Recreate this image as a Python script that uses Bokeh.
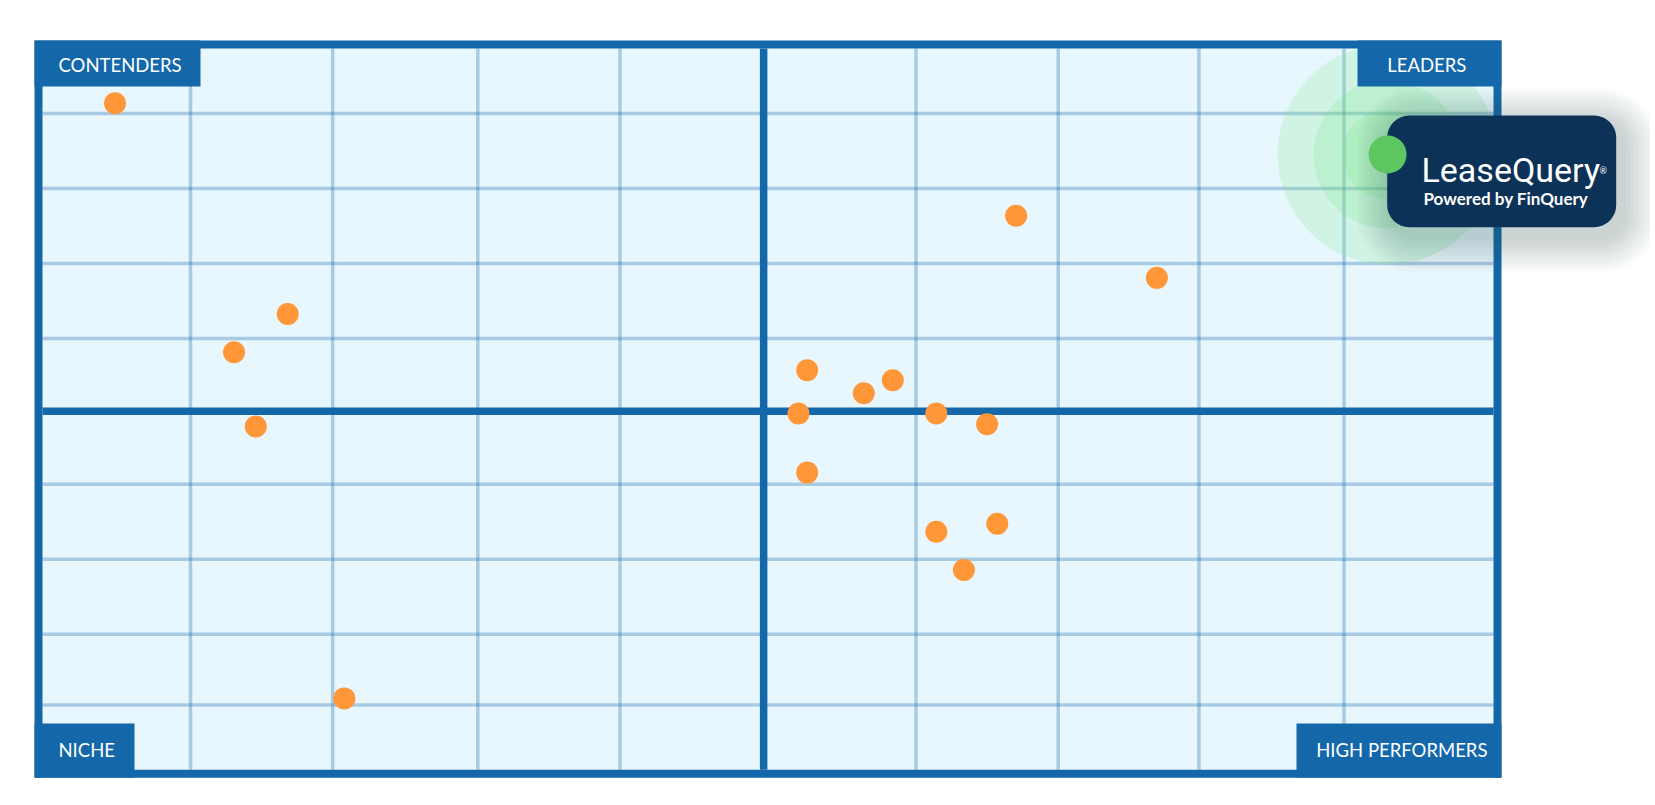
from bokeh.plotting import figure
from bokeh.core.properties import value
from bokeh.embed import file_html
from bokeh.resources import INLINE

# ---------------- data ----------------
vendor_x = [5.0, 16.9, 13.2, 14.7, 20.8, 67.1, 76.8, 52.7, 56.6, 58.6,
            52.1, 61.6, 65.1, 52.7, 61.6, 65.8, 63.5]
vendor_y = [92.4, 63.2, 57.9, 47.6, 9.9, 76.8, 68.2, 55.4, 52.2, 54.0,
            49.4, 49.4, 47.9, 41.2, 33.0, 34.1, 27.7]
highlight_x = [92.7]
highlight_y = [85.3]
highlight_name = ["LeaseQuery"]
grid_x = [10.2, 20.0, 30.0, 39.8, 60.2, 70.0, 79.7, 89.7]
grid_y = [9.0, 18.8, 29.2, 39.6, 59.8, 70.2, 80.6, 91.0]
mid_x = [49.7]
mid_y = [49.7]
quadrant_labels = ["CONTENDERS", "LEADERS", "NICHE", "HIGH PERFORMERS"]

# ---------------- layout ----------------
W, H = 1650, 800
PAGE = 0
L_PX, R_PX, T_PX, B_PX = 42.0, 1493.0, 48.0, 769.3
sx = (R_PX - L_PX) / 100.0
sy = (B_PX - T_PX) / 100.0


def fx(px):
    return (px - L_PX) / sx


def fy(py):
    return (B_PX - py) / sy


BLUE = "#1468a9"
BG = "#e8f7fd"
ORANGE = "#ff9638"
NAVY = "#0c3258"
GREEN = "#5cc661"
GLOW = "#74e480"

p = figure(width=W, height=H,
           x_range=(fx(PAGE), fx(PAGE + W)),
           y_range=(fy(PAGE + H), fy(PAGE)),
           output_backend="svg", toolbar_location=None,
           x_axis_type=None, y_axis_type=None, min_border=0)
p.outline_line_color = None
p.background_fill_color = "white"
p.border_fill_color = "white"

# frame
p.quad(left=fx(34), right=fx(1501), top=fy(40), bottom=fy(777.3),
       fill_color=BLUE, line_color=None)
p.quad(left=0, right=100, top=100, bottom=0, fill_color=BG, line_color=None)

# grid
p.segment(x0=grid_x, y0=0, x1=grid_x, y1=100, line_color=BLUE,
          line_alpha=0.3, line_width=3.5)
p.segment(x0=0, y0=grid_y, x1=100, y1=grid_y, line_color=BLUE,
          line_alpha=0.3, line_width=3.5)
p.segment(x0=mid_x, y0=0, x1=mid_x, y1=100, line_color=BLUE, line_width=7.5)
p.segment(x0=0, y0=mid_y, x1=100, y1=mid_y, line_color=BLUE, line_width=7.5)

# glow around highlight
p.scatter(x=highlight_x * 3, y=highlight_y * 3, size=[220, 148, 90],
          fill_color=GLOW, fill_alpha=0.2, line_color=None)

# quadrant label boxes
boxes = [(34, 200, 40, 86), (1357, 1501, 40, 86),
         (34, 134, 723, 777.3), (1296, 1501, 723, 777.3)]
text_pos = [(58, 64.7), (1386.7, 64.7), (58, 749.7), (1315.7, 749.7)]
p.quad(left=[fx(b[0]) for b in boxes], right=[fx(b[1]) for b in boxes],
       top=[fy(b[2]) for b in boxes], bottom=[fy(b[3]) for b in boxes],
       fill_color=BLUE, line_color=None)
p.text(x=[fx(t[0]) for t in text_pos], y=[fy(t[1]) for t in text_pos],
       text=quadrant_labels, text_color="white",
       text_font=value("Lato"), text_font_size=value("18.5px"),
       text_baseline="alphabetic", text_align="left")

# vendors
p.scatter(x=vendor_x, y=vendor_y, size=22, fill_color=ORANGE, line_color=None)

# logo badge shadow
bx0, bx1, by0, by1 = 1386.7, 1615.7, 115.0, 226.7
for i in range(9):
    e = 4.0 * (i + 1)
    p.quad(left=fx(bx0 + 6 - e), right=fx(bx1 + 6 + e),
           top=fy(by0 + 9 - e), bottom=fy(by1 + 9 + e),
           border_radius=int(round(22 + e)), fill_color="#303840",
           fill_alpha=0.027, line_color=None)
p.quad(left=fx(bx0), right=fx(bx1), top=fy(by0), bottom=fy(by1),
       border_radius=22, fill_color=NAVY, line_color=None)

# highlighted point
p.scatter(x=highlight_x, y=highlight_y, size=38, fill_color=GREEN,
          line_color=None)

p.text(x=[fx(1421)], y=[fy(169)], text=highlight_name, text_color="white",
       text_font=value("Roboto"), text_font_size=value("34px"),
       text_baseline="alphabetic", text_align="left")
p.text(x=[fx(1599)], y=[fy(170)], text=["®"], text_color="white",
       text_font=value("Lato"), text_font_size=value("9px"),
       text_baseline="alphabetic", text_align="left")
p.text(x=[fx(1423)], y=[fy(197.5)], text=["Powered by FinQuery"],
       text_color="white", text_font=value("Lato"), text_font_style="bold",
       text_font_size=value("17px"), text_baseline="alphabetic",
       text_align="left")

open("out.html", "w").write(file_html(p, INLINE))
